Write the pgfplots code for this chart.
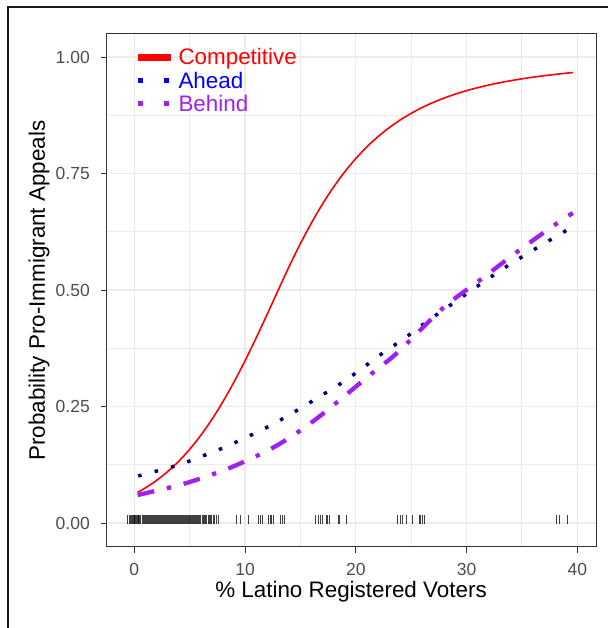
\documentclass[border=0pt]{standalone}
\usepackage{fontspec}
\setmainfont{Liberation Sans}
\usepackage{pgfplots}
\pgfplotsset{compat=1.18}
\usepackage{pgfplotstable}
\definecolor{rred}{HTML}{FF0000}
\definecolor{rblue}{HTML}{0000FF}
\definecolor{rnavy}{HTML}{000080}
\definecolor{rpurple}{HTML}{A020F0}
\definecolor{gridc}{HTML}{EBEBEB}
\definecolor{gtwenty}{HTML}{333333}
\definecolor{gthirty}{HTML}{4D4D4D}

\pgfplotstableread{
x y
0.3 0.0657
1 0.0753
2 0.0912
3 0.1101
4 0.1323
5 0.1582
6 0.1880
7 0.2220
8 0.2602
9 0.3024
10 0.3482
11 0.3970
12 0.4479
13 0.5000
14 0.5513
15 0.5995
16 0.6441
17 0.6847
18 0.7211
19 0.7535
20 0.7821
21 0.8072
22 0.8290
23 0.8481
24 0.8647
25 0.8791
26 0.8917
27 0.9026
28 0.9121
29 0.9205
30 0.9278
31 0.9342
32 0.9398
33 0.9448
34 0.9492
35 0.9532
36 0.9567
37 0.9598
38 0.9627
39 0.9653
39.6 0.9667
}\competitive

\pgfplotstableread{
x y
0.35 0.101
3.5 0.121
5.0 0.133
7.9 0.160
9.4 0.176
12.2 0.208
15.0 0.246
16.3 0.265
19.0 0.305
21.6 0.350
22.8 0.371
24.2 0.393
26.7 0.437
29.3 0.480
30.6 0.502
33.2 0.544
35.9 0.584
38.6 0.622
39.6 0.636
}\ahead

\pgfplotstableread{
x y
0.3 0.060
4.6 0.085
8.8 0.120
12.7 0.164
16.3 0.221
21.4 0.320
23.1 0.352
24.3 0.378
28.0 0.464
31.2 0.521
34.8 0.586
38.4 0.647
39.6 0.665
}\behind

\pgfplotstableread{
x y
-0.6 0.0071
-0.4 0.0071
-0.3 0.0071
-0.2 0.0071
-0.1 0.0071
0.0 0.0071
0.05 0.0071
0.1 0.0071
0.2 0.0071
0.3 0.0071
0.35 0.0071
0.4 0.0071
0.5 0.0071
0.6 0.0071
0.7 0.0071
0.8 0.0071
0.9 0.0071
1.0 0.0071
1.1 0.0071
1.2 0.0071
1.3 0.0071
1.4 0.0071
1.5 0.0071
1.6 0.0071
1.7 0.0071
1.8 0.0071
1.9 0.0071
2.0 0.0071
2.1 0.0071
2.2 0.0071
2.3 0.0071
2.4 0.0071
2.5 0.0071
2.6 0.0071
2.7 0.0071
2.8 0.0071
2.9 0.0071
3.0 0.0071
3.1 0.0071
3.2 0.0071
3.3 0.0071
3.4 0.0071
3.5 0.0071
3.6 0.0071
3.7 0.0071
3.8 0.0071
3.9 0.0071
4.0 0.0071
4.1 0.0071
4.2 0.0071
4.3 0.0071
4.4 0.0071
4.5 0.0071
4.6 0.0071
4.7 0.0071
4.8 0.0071
4.9 0.0071
5.0 0.0071
5.1 0.0071
5.2 0.0071
5.3 0.0071
5.4 0.0071
5.5 0.0071
5.6 0.0071
5.7 0.0071
5.8 0.0071
5.9 0.0071
6.0 0.0071
6.2 0.0071
6.3 0.0071
6.4 0.0071
6.5 0.0071
6.7 0.0071
6.8 0.0071
6.9 0.0071
7.0 0.0071
7.2 0.0071
7.4 0.0071
7.6 0.0071
9.2 0.0071
9.6 0.0071
10.3 0.0071
11.2 0.0071
11.4 0.0071
11.6 0.0071
12.1 0.0071
12.3 0.0071
12.4 0.0071
12.6 0.0071
13.2 0.0071
13.4 0.0071
13.6 0.0071
16.4 0.0071
16.6 0.0071
16.8 0.0071
17.0 0.0071
17.4 0.0071
17.6 0.0071
18.4 0.0071
18.5 0.0071
19.2 0.0071
23.8 0.0071
24.0 0.0071
24.2 0.0071
24.6 0.0071
25.1 0.0071
25.8 0.0071
26.0 0.0071
26.2 0.0071
38.1 0.0071
38.4 0.0071
39.1 0.0071
}\rug

\begin{document}
\begin{tikzpicture}
\useasboundingbox (0pt,0pt) rectangle (608pt,628pt);
\draw[line width=1.2pt, black!90] (8pt,0pt) -- (8pt,621pt) -- (608pt,621pt);
\begin{axis}[
  at={(106pt,81pt)}, anchor=south west,
  scale only axis, width=490pt, height=513pt,
  xmin=-2.555, xmax=41.69, ymin=-0.0515, ymax=1.0494,
  xtick={0,10,20,30,40}, xticklabels={0,10,20,30,40},
  ytick={0,0.25,0.5,0.75,1}, yticklabels={0.00,0.25,0.50,0.75,1.00},
  minor xtick={5,15,25,35}, minor ytick={0.125,0.375,0.625,0.875},
  grid=both,
  major grid style={draw=gridc, line width=1.4pt},
  minor grid style={draw=gridc, line width=0.9pt},
  axis line style={draw=gtwenty, line width=1pt},
  tick style={draw=gtwenty, line width=1pt},
  major tick length=5.5pt, minor tick length=0pt,
  tick align=outside, xtick pos=bottom, ytick pos=left,
  xticklabel style={font=\fontsize{17.5}{17.5}\selectfont, text=gthirty, inner sep=0pt, yshift=-10.5pt},
  yticklabel style={font=\fontsize{17.5}{17.5}\selectfont, text=gthirty, inner sep=0pt, xshift=-10.5pt},
  xlabel={\% Latino Registered Voters},
  ylabel={Probability Pro-Immigrant Appeals},
  xlabel style={at={(axis description cs:0.5,-0.0975)}, anchor=base, inner sep=0pt, font=\fontsize{22.4}{22.4}\selectfont},
  ylabel style={at={(axis description cs:-0.1245,0.5)}, anchor=base, inner sep=0pt, font=\fontsize{22.4}{22.4}\selectfont},
  legend style={at={(axis description cs:0.0592,0.9696)}, anchor=north west, draw=none, fill=none,
    inner sep=0pt, outer sep=0pt, row sep=7.9pt, column sep=4pt,
    font=\fontsize{22.4}{22.4}\selectfont,
    nodes={inner sep=0pt, text height=15.4pt, text depth=0pt}},
  legend cell align=left,
]
\addlegendimage{legend image code/.code={\draw[rred, line width=6.5pt] (0pt,0pt) -- (33pt,0pt);}}
\addlegendentry{\textcolor{rred}{Competitive}}
\addlegendimage{legend image code/.code={\draw[rblue, line width=5pt, dash pattern=on 5pt off 21pt] (0pt,0pt) -- (31pt,0pt);}}
\addlegendentry{\textcolor{rblue}{Ahead}}
\addlegendimage{legend image code/.code={\draw[rpurple, line width=5pt, dash pattern=on 5pt off 21pt] (0pt,0pt) -- (31pt,0pt);}}
\addlegendentry{\textcolor{rpurple}{Behind}}

\addplot[forget plot, only marks, mark=|, mark size=4.65pt, mark options={line width=1.1pt, draw=black, opacity=0.75}] table[x=x,y=y] {\rug};
\addplot[forget plot, rred, line width=1.6pt, smooth] table[x=x,y=y] {\competitive};
\addplot[forget plot, rnavy, line width=3.5pt, smooth, dash pattern=on 3.5pt off 13.5pt] table[x=x,y=y] {\ahead};
\addplot[forget plot, rpurple, line width=4.3pt, smooth, dash pattern=on 17pt off 13pt on 4.3pt off 13pt] table[x=x,y=y] {\behind};
\end{axis}
\end{tikzpicture}
\end{document}
